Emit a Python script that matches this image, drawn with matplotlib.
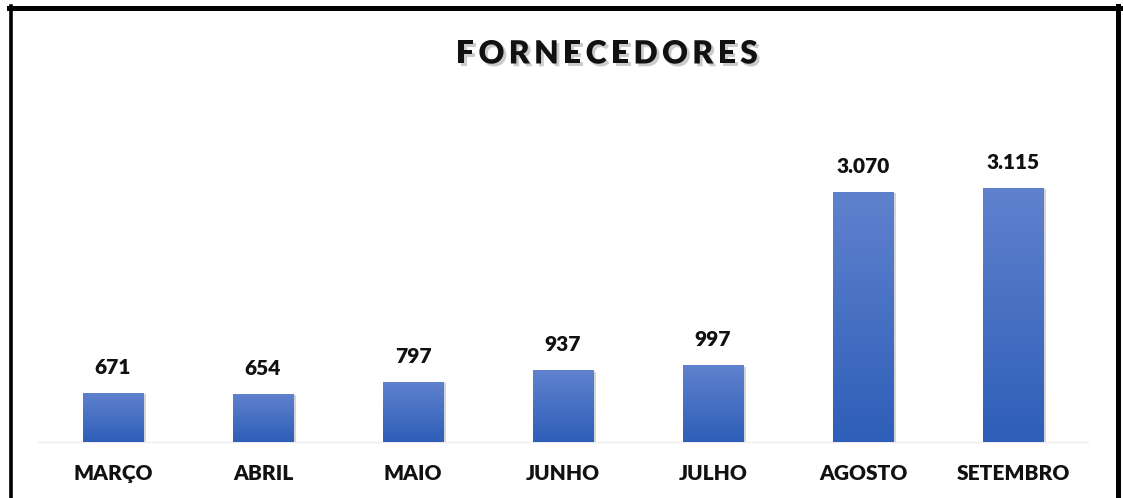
import matplotlib
matplotlib.use("Agg")
import matplotlib.pyplot as plt
import matplotlib.patheffects as pe
from matplotlib.lines import Line2D
import numpy as np

categories = ["MARÇO", "ABRIL", "MAIO", "JUNHO", "JULHO", "AGOSTO", "SETEMBRO"]
values = [671, 654, 797, 937, 997, 3070, 3115]
value_labels = ["671", "654", "797", "937", "997", "3.070", "3.115"]
title = "FORNECEDORES"

W, H = 1123, 498
fig = plt.figure(figsize=(W / 100, H / 100), dpi=100)
fig.patch.set_facecolor("white")

YMIN = 80
YMAX = 80 + 342 / 0.0837
ax = fig.add_axes([38 / W, 1 - 442 / H, 1050 / W, 342 / H])
ax.set_facecolor("none")

x = np.arange(len(categories))
bars = ax.bar(x, values, width=61 / 150, color="#4470C4", zorder=2,
              path_effects=[pe.SimplePatchShadow(offset=(2, -1), shadow_rgbFace="#888888", alpha=0.35), pe.Normal()])

top_c = np.array([96, 130, 206]) / 255
bot_c = np.array([46, 94, 184]) / 255
grad = np.linspace(0, 1, 256)[:, None]
img = (top_c[None, None, :] * grad[..., None] + bot_c[None, None, :] * (1 - grad[..., None]))
for b in bars:
    x0, w = b.get_x(), b.get_width()
    h = b.get_height()
    im = ax.imshow(img, extent=(x0, x0 + w, YMIN, h), origin="lower", aspect="auto", zorder=3,
                   interpolation="bilinear")
    im.set_clip_path(b)

ax.set_xlim(-0.5, len(categories) - 0.5)
ax.set_ylim(YMIN, YMAX)

for xi, v, lab in zip(x, values, value_labels):
    ax.annotate(lab, (xi, v), xytext=(0, 16), textcoords="offset pixels",
                ha="center", va="bottom", fontsize=15, fontweight="heavy", family="Lato", color="#111111")

for s in ["top", "right", "left"]:
    ax.spines[s].set_visible(False)
ax.spines["bottom"].set_color("#EEEEEE")
ax.spines["bottom"].set_linewidth(1)
ax.set_yticks([])
ax.set_xticks(x)
ax.set_xticklabels(categories, fontsize=15, fontweight="heavy", family="Lato", color="#111111")
ax.tick_params(axis="x", length=0, pad=16)

# title with letter spacing, drawn char by char
renderer = fig.canvas.get_renderer()
tkw = dict(fontsize=23, fontweight="heavy", family="Lato", color="#111111", va="center", ha="left",
           path_effects=[pe.withSimplePatchShadow(offset=(2, -2), shadow_rgbFace="#999999", alpha=0.5)])
spacing = 4.2
widths = []
for ch in title:
    t = fig.text(0, 0, ch, **tkw)
    widths.append(t.get_window_extent(renderer).width)
    t.remove()
total = sum(widths) + spacing * (len(title) - 1)
cx = 607
xpos = cx - total / 2
for ch, wd in zip(title, widths):
    fig.text(xpos / W, 1 - 54 / H, ch, **tkw)
    xpos += wd + spacing

fig.add_artist(Line2D([9 / W, 1120 / W], [1 - 8.5 / H, 1 - 8.5 / H], transform=fig.transFigure, color="black", lw=3.6))
fig.add_artist(Line2D([10.5 / W, 10.5 / W], [0, 1 - 6 / H], transform=fig.transFigure, color="black", lw=2.6))
fig.add_artist(Line2D([1117.5 / W, 1117.5 / W], [0, 1 - 6 / H], transform=fig.transFigure, color="black", lw=3.6))

fig.savefig("out.png", dpi=100)
